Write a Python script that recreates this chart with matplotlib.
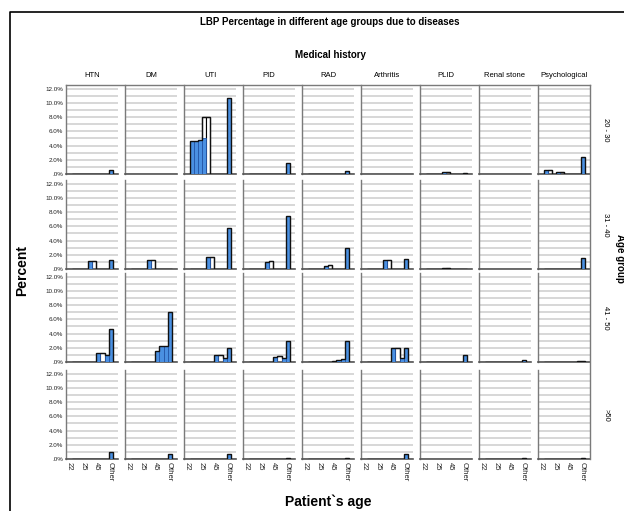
import numpy as np
import matplotlib
matplotlib.use("Agg")
import matplotlib.pyplot as plt
from matplotlib.lines import Line2D

plt.rcParams['font.family'] = ['Liberation Sans', 'DejaVu Sans']

diseases = ["HTN", "DM", "UTI", "PID", "RAD", "Arthritis", "PLID", "Renal stone", "Psychological"]
age_groups = ["20 - 30", "31 - 40", "41 - 50", ">50"]
age_ticks = ["22", "25", "45", "Other"]

# percent per age bin (10 bins, last one = "Other"), blue = filled bars, white = outlined bars
blue_20_30 = [
    [0, 0, 0, 0, 0, 0, 0, 0, 0, 0.5],
    [0, 0, 0, 0, 0, 0, 0, 0, 0, 0],
    [4.6, 4.6, 4.8, 5.1, 0, 0, 0, 0, 0, 10.7],
    [0, 0, 0, 0, 0, 0, 0, 0, 0, 1.5],
    [0, 0, 0, 0, 0, 0, 0, 0, 0, 0.4],
    [0, 0, 0, 0, 0, 0, 0, 0, 0, 0],
    [0, 0, 0, 0, 0.25, 0, 0, 0, 0, 0.1],
    [0, 0, 0, 0, 0, 0, 0, 0, 0, 0],
    [0.5, 0, 0, 0.3, 0, 0, 0, 0, 0, 2.4],
]
white_20_30 = [
    [0, 0, 0, 0, 0, 0, 0, 0, 0, 0],
    [0, 0, 0, 0, 0, 0, 0, 0, 0, 0],
    [0, 0, 0, 8.0, 8.0, 0, 0, 0, 0, 0],
    [0, 0, 0, 0, 0, 0, 0, 0, 0, 0],
    [0, 0, 0, 0, 0, 0, 0, 0, 0, 0],
    [0, 0, 0, 0, 0, 0, 0, 0, 0, 0],
    [0, 0, 0, 0, 0, 0.25, 0, 0, 0, 0],
    [0, 0, 0, 0, 0, 0, 0, 0, 0, 0],
    [0, 0.5, 0, 0, 0.3, 0, 0, 0, 0, 0],
]
blue_31_40 = [
    [0, 0, 0, 0, 1.1, 0, 0, 0, 0, 1.2],
    [0, 0, 0, 0, 1.2, 0, 0, 0, 0, 0],
    [0, 0, 0, 0, 1.7, 0, 0, 0, 0, 5.8],
    [0, 0, 0, 0, 1.0, 0, 0, 0, 0, 7.5],
    [0, 0, 0, 0, 0.4, 0, 0, 0, 0, 2.9],
    [0, 0, 0, 0, 1.2, 0, 0, 0, 0, 1.4],
    [0, 0, 0, 0, 0.2, 0, 0, 0, 0, 0],
    [0, 0, 0, 0, 0, 0, 0, 0, 0, 0],
    [0, 0, 0, 0, 0, 0, 0, 0, 0, 1.6],
]
white_31_40 = [
    [0, 0, 0, 0, 0, 1.1, 0, 0, 0, 0],
    [0, 0, 0, 0, 0, 1.2, 0, 0, 0, 0],
    [0, 0, 0, 0, 0, 1.7, 0, 0, 0, 0],
    [0, 0, 0, 0, 0, 1.1, 0, 0, 0, 0],
    [0, 0, 0, 0, 0, 0.6, 0, 0, 0, 0],
    [0, 0, 0, 0, 0, 1.3, 0, 0, 0, 0],
    [0, 0, 0, 0, 0, 0.2, 0, 0, 0, 0],
    [0, 0, 0, 0, 0, 0, 0, 0, 0, 0],
    [0, 0, 0, 0, 0, 0, 0, 0, 0, 0],
]
blue_41_50 = [
    [0, 0, 0, 0, 0, 0, 1.3, 0, 1.0, 4.7],
    [0, 0, 0, 0, 0, 0, 1.5, 2.2, 2.2, 7.0],
    [0, 0, 0, 0, 0, 0, 1.0, 0, 0.5, 2.0],
    [0, 0, 0, 0, 0, 0, 0.7, 0, 0.6, 3.0],
    [0, 0, 0, 0, 0, 0, 0.15, 0.3, 0.4, 3.0],
    [0, 0, 0, 0, 0, 0, 2.0, 0, 0.6, 2.0],
    [0, 0, 0, 0, 0, 0, 0, 0, 0, 1.0],
    [0, 0, 0, 0, 0, 0, 0, 0, 0, 0.3],
    [0, 0, 0, 0, 0, 0, 0, 0, 0.1, 0.2],
]
white_41_50 = [
    [0, 0, 0, 0, 0, 0, 0, 1.3, 0, 0],
    [0, 0, 0, 0, 0, 0, 0, 0, 0, 0],
    [0, 0, 0, 0, 0, 0, 0, 1.0, 0, 0],
    [0, 0, 0, 0, 0, 0, 0, 0.8, 0, 0],
    [0, 0, 0, 0, 0, 0, 0, 0, 0, 0],
    [0, 0, 0, 0, 0, 0, 0, 2.0, 0, 0],
    [0, 0, 0, 0, 0, 0, 0, 0, 0, 0],
    [0, 0, 0, 0, 0, 0, 0, 0, 0, 0],
    [0, 0, 0, 0, 0, 0, 0, 0, 0, 0],
]
blue_over_50 = [
    [0, 0, 0, 0, 0, 0, 0, 0, 0, 1.0],
    [0, 0, 0, 0, 0, 0, 0, 0, 0, 0.7],
    [0, 0, 0, 0, 0, 0, 0, 0, 0, 0.7],
    [0, 0, 0, 0, 0, 0, 0, 0, 0, 0.2],
    [0, 0, 0, 0, 0, 0, 0, 0, 0, 0.15],
    [0, 0, 0, 0, 0, 0, 0, 0, 0, 0.7],
    [0, 0, 0, 0, 0, 0, 0, 0, 0, 0],
    [0, 0, 0, 0, 0, 0, 0, 0, 0, 0.15],
    [0, 0, 0, 0, 0, 0, 0, 0, 0, 0.1],
]
white_over_50 = [[0] * 10 for _ in diseases]

blue_rows = [blue_20_30, blue_31_40, blue_41_50, blue_over_50]
white_rows = [white_20_30, white_31_40, white_41_50, white_over_50]

W, H = 624, 511
edges = 0.2 + 0.3 * np.arange(11)
centers = (edges[:-1] + edges[1:]) / 2
row_bottom = [174, 269, 362, 459]
ax_h = 89

fig = plt.figure(figsize=(W / 100, H / 100), dpi=100)

for r in range(4):
    for c in range(9):
        left = (66 + 59 * c) / W
        ax = fig.add_axes([left, 1 - row_bottom[r] / H, 52 / W, ax_h / H])
        blue = np.array(blue_rows[r][c], dtype=float)
        white = np.array(white_rows[r][c], dtype=float)
        m = white > 0
        if m.any():
            ax.bar(centers[m], white[m], width=0.3, color='white', edgecolor='black', lw=0.8, zorder=2)
        m = blue > 0
        if m.any():
            ax.bar(centers[m], blue[m], width=0.3, color='#4a90e2', edgecolor='#2456a8', lw=0.6, zorder=3)
        env = np.maximum(blue, white)
        if env.any():
            ax.stairs(env, edges, color='#111111', lw=1.0, zorder=4)

        ax.set_xlim(-0.22, 3.58)
        ax.set_ylim(0, 12.5)
        ax.set_yticks(np.arange(0, 13, 2))
        ax.set_yticks(np.arange(1, 13, 2), minor=True)
        ax.grid(True, axis='y', which='both', color='#d4d4d4', lw=1.3)
        ax.set_axisbelow(True)
        ax.tick_params(which='both', length=0)
        ax.set_xticks([0, 1, 2, 3])
        if c == 0:
            ax.set_yticklabels([".0%"] + ["%.1f%%" % v for v in range(2, 13, 2)], fontsize=4.5, color='#222222')
            ax.tick_params(axis='y', pad=2)
        else:
            ax.set_yticklabels([])
        if r == 3:
            ax.set_xticklabels(age_ticks, rotation=-90, fontsize=5.5, color='#222222')
            ax.tick_params(axis='x', pad=2)
        else:
            ax.set_xticklabels([])
        for s in ['top', 'right']:
            ax.spines[s].set_visible(False)
        ax.spines['left'].set_color('#7a7a7a')
        ax.spines['left'].set_linewidth(1.0)
        ax.spines['bottom'].set_color('#555555')
        ax.spines['bottom'].set_linewidth(1.2)

        if r == 0:
            fig.text((66 + 59 * c + 26) / W, 1 - 75 / H, diseases[c], ha='center', va='center', fontsize=5.5)
    fig.text(606 / W, 1 - (row_bottom[r] - 44) / H, age_groups[r], rotation=-90,
             ha='center', va='center', fontsize=5.5)

# panel frame top and right
fig.add_artist(Line2D([66 / W, 590 / W], [1 - 85 / H, 1 - 85 / H], color='#7a7a7a', lw=1.0))
fig.add_artist(Line2D([590 / W, 590 / W], [1 - 85 / H, 1 - 459 / H], color='#7a7a7a', lw=1.0))
# outer border
fig.add_artist(Line2D([10 / W, 10 / W, 1.0], [0, 1 - 12 / H, 1 - 12 / H], color='black', lw=1.2))

fig.text(330 / W, 1 - 22 / H, "LBP Percentage in different age groups due to diseases",
         ha='center', va='center', fontsize=7, fontweight='bold')
fig.text(330 / W, 1 - 55 / H, "Medical history", ha='center', va='center', fontsize=7, fontweight='bold')
fig.text(620 / W, 1 - 258 / H, "Age group", rotation=-90, ha='center', va='center', fontsize=7, fontweight='bold')
fig.text(22 / W, 1 - 270 / H, "Percent", rotation=90, ha='center', va='center', fontsize=10, fontweight='bold')
fig.text(328 / W, 1 - 502 / H, "Patient`s age", ha='center', va='center', fontsize=10, fontweight='bold')

fig.savefig("out.png", dpi=100)
